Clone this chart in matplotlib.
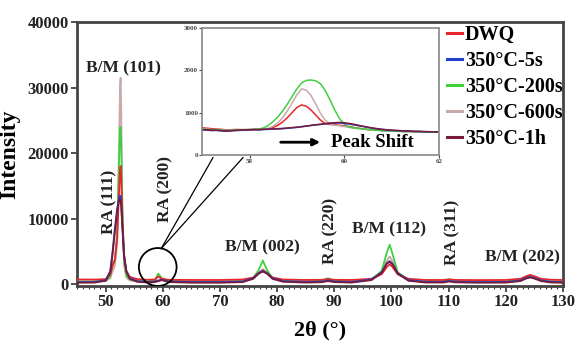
import matplotlib
matplotlib.use("Agg")
import matplotlib.pyplot as plt
from matplotlib.patches import Ellipse, ConnectionPatch
from matplotlib.ticker import MultipleLocator

plt.rcParams['font.family'] = ['Liberation Serif', 'DejaVu Serif']
plt.rcParams['font.weight'] = 'bold'
SERIF = ['Liberation Serif', 'DejaVu Serif']

# ---------------- data ----------------
two_theta = [45, 48, 50, 50.8, 51.2, 51.6, 52.0, 52.3, 52.5, 52.6, 52.7, 52.9, 53.2, 53.6, 54.2,
             55.5, 57.5, 58.6, 59.2, 59.8, 61, 65, 70, 74, 75.8, 76.8, 77.5, 78.2, 79.2, 81,
             85, 87.8, 88.9, 90, 93, 96.5, 98.3, 99.2, 99.7, 100.2, 101.1, 103, 106, 109, 110.1,
             111.2, 115, 120, 122.6, 123.6, 124.3, 125.0, 126.2, 128, 130]

dwq = [700, 680, 750, 1500, 2800, 3800, 7000, 13500, 17500, 18000, 16500, 10000, 4500, 2000, 1100,
       750, 650, 700, 1150, 800, 650, 620, 620, 700, 1000, 1700, 2100, 1700, 1000, 700,
       620, 650, 750, 650, 620, 800, 1500, 2600, 3000, 2600, 1500, 800, 620, 620, 700,
       630, 600, 620, 800, 1200, 1400, 1200, 800, 650, 620]

t5s = [300, 320, 600, 2000, 5000, 8500, 11500, 13000, 13500, 13400, 12500, 9000, 4500, 2000, 900,
       450, 320, 400, 550, 650, 400, 300, 300, 400, 900, 1700, 2000, 1700, 900, 450,
       320, 380, 550, 400, 320, 700, 1800, 3200, 3500, 3100, 1700, 600, 330, 330, 480,
       360, 300, 320, 550, 950, 1100, 950, 550, 330, 300]

t200s = [400, 400, 500, 1200, 3000, 3500, 8000, 18000, 23500, 24000, 22000, 12000, 3500, 1300, 700,
         450, 400, 600, 1600, 900, 450, 380, 380, 450, 900, 2200, 3600, 2200, 900, 500,
         400, 500, 900, 500, 400, 700, 2000, 4800, 6000, 4600, 1800, 600, 400, 450, 750,
         450, 380, 380, 600, 1000, 1200, 1000, 600, 400, 380]

t600s = [350, 350, 450, 900, 2000, 2800, 6000, 20000, 30000, 31500, 27000, 12000, 3000, 1000, 550,
         400, 350, 500, 1300, 700, 400, 350, 350, 420, 800, 1700, 2300, 1700, 800, 450,
         350, 420, 650, 420, 350, 650, 1700, 3600, 4200, 3500, 1500, 550, 370, 380, 550,
         400, 350, 360, 550, 900, 1100, 900, 550, 380, 350]

t1h = [200, 220, 500, 1800, 4600, 8000, 11000, 12600, 13000, 12900, 12000, 8800, 4300, 1900, 800,
       350, 220, 300, 450, 600, 300, 200, 200, 300, 800, 1600, 1900, 1600, 800, 350,
       220, 280, 450, 300, 220, 600, 1700, 3100, 3400, 3000, 1600, 500, 230, 230, 380,
       260, 200, 220, 450, 850, 1000, 850, 450, 230, 200]

# inset (zoom on RA(200))
inset_theta = [57.0, 57.1, 57.2, 57.3, 57.4, 57.5, 57.6, 57.7, 57.8, 57.9,
               58.0, 58.1, 58.2, 58.3, 58.4, 58.5, 58.6, 58.7, 58.8, 58.9,
               59.0, 59.1, 59.2, 59.3, 59.4, 59.5, 59.6, 59.7, 59.8, 59.9,
               60.0, 60.1, 60.2, 60.3, 60.4, 60.5, 60.6, 60.7, 60.8, 60.9,
               61.0, 61.1, 61.2, 61.3, 61.4, 61.5, 61.6, 61.7, 61.8, 61.9, 62.0]

inset_dwq = [640, 630, 620, 610, 605, 590, 595, 600, 600, 595,
             600, 605, 600, 610, 620, 650, 700, 780, 880, 1000,
             1120, 1180, 1150, 1060, 940, 820, 740, 720, 710, 700,
             690, 670, 650, 630, 615, 600, 590, 585, 575, 570,
             565, 560, 558, 555, 552, 550, 548, 546, 545, 545, 545]

inset_5s = [590, 585, 575, 580, 570, 560, 570, 575, 580, 585,
            590, 595, 590, 600, 605, 610, 615, 620, 630, 640,
            650, 665, 680, 695, 710, 720, 735, 745, 750, 755,
            745, 730, 710, 690, 670, 650, 630, 615, 600, 590,
            580, 575, 570, 565, 560, 555, 555, 550, 548, 545, 545]

inset_200s = [610, 600, 590, 600, 585, 570, 580, 590, 585, 600,
              595, 605, 610, 640, 700, 790, 900, 1040, 1200, 1380,
              1560, 1700, 1760, 1770, 1750, 1680, 1520, 1300, 1060, 860,
              730, 660, 640, 630, 610, 600, 590, 580, 575, 570,
              565, 560, 555, 550, 555, 545, 550, 545, 540, 545, 540]

inset_600s = [620, 610, 600, 595, 590, 580, 585, 590, 595, 590,
              600, 600, 605, 610, 630, 680, 760, 880, 1040, 1230,
              1420, 1560, 1530, 1400, 1200, 980, 820, 730, 700, 690,
              670, 650, 630, 620, 610, 600, 590, 585, 575, 570,
              565, 560, 555, 552, 550, 548, 546, 545, 545, 543, 543]

inset_1h = [600, 595, 585, 580, 575, 565, 570, 580, 585, 590,
            595, 600, 600, 605, 610, 615, 620, 625, 635, 645,
            655, 668, 682, 698, 712, 725, 740, 752, 760, 768,
            760, 745, 725, 700, 678, 655, 635, 620, 605, 595,
            585, 578, 572, 566, 560, 556, 554, 550, 548, 546, 545]

labels = ['DWQ', '350°C-5s', '350°C-200s', '350°C-600s', '350°C-1h']
colors = ['#e8262b', '#2340c8', '#3fcf3f', '#c9a9aa', '#7a1a3a']

peak_labels = ['B/M (101)', 'RA (111)', 'RA (200)', 'B/M (002)', 'RA (220)',
               'B/M (112)', 'RA (311)', 'B/M (202)']
peak_x = [53.1, 50.6, 60.5, 77.5, 89.4, 99.5, 110.6, 123.0]
peak_y = [33000, 12500, 14500, 5600, 8100, 8300, 7900, 4000]
peak_rot = [0, 90, 90, 0, 90, 0, 90, 0]

# ---------------- figure ----------------
fig = plt.figure(figsize=(5.76, 3.45), dpi=100)
ax = fig.add_axes([0.134, 0.171, 0.843, 0.765])

series = [dwq, t5s, t200s, t600s, t1h]
order = [3, 2, 0, 1, 4]
for i in order:
    ax.plot(two_theta, series[i], color=colors[i], lw=1.3, zorder=2 + order.index(i))

ax.set_xlim(45, 130)
ax.set_ylim(-300, 40000)
ax.xaxis.set_major_locator(MultipleLocator(10))
ax.xaxis.set_minor_locator(MultipleLocator(1))
ax.yaxis.set_major_locator(MultipleLocator(10000))
ax.tick_params(axis='both', which='major', direction='out', length=4, width=1.2,
               labelsize=12, pad=2, colors='#333333')
ax.tick_params(axis='x', which='minor', direction='out', length=2, width=0.8, colors='#333333')
for lab in ax.get_xticklabels() + ax.get_yticklabels():
    lab.set_fontweight('bold')
    lab.set_color('#222222')
for sp in ax.spines.values():
    sp.set_linewidth(2)
    sp.set_color('#444444')

ax.set_xlabel('2θ (°)', fontsize=16, fontweight='bold', labelpad=7)
ax.set_ylabel('Intensity', fontsize=17, fontweight='bold', labelpad=5)

for t, x, y, r in zip(peak_labels, peak_x, peak_y, peak_rot):
    ax.text(x, y, t, rotation=r, ha='center', va='center', fontsize=12.5,
            fontweight='bold', color='#222222', zorder=10, family=SERIF)

circ = Ellipse((59.1, 2600), width=6.6, height=5800, fill=False, ec='black', lw=1.3, zorder=10)
ax.add_patch(circ)

leg_handles = [plt.Line2D([], [], color=c, lw=2.2) for c in colors]
ax.legend(leg_handles, labels, loc='upper right', bbox_to_anchor=(1.0, 0.99),
          frameon=False, handlelength=0.75, handletextpad=0.15,
          labelspacing=0.3, borderaxespad=0.0, borderpad=0.0,
          prop={'family': 'Liberation Serif', 'weight': 'bold', 'size': 14.5})

# ---------------- inset ----------------
axin = fig.add_axes([0.351, 0.551, 0.411, 0.368])
inset_series = [inset_dwq, inset_5s, inset_200s, inset_600s, inset_1h]
for i in [0, 3, 2, 1, 4]:
    axin.plot(inset_theta, inset_series[i], color=colors[i], lw=1.1)
axin.set_xlim(57, 62)
axin.set_ylim(0, 3000)
axin.xaxis.set_major_locator(MultipleLocator(2))
axin.yaxis.set_major_locator(MultipleLocator(1000))
axin.tick_params(axis='both', direction='out', length=2, width=0.8, labelsize=5, pad=1,
                 colors='#444444')
for lab in axin.get_xticklabels() + axin.get_yticklabels():
    lab.set_fontweight('bold')
for sp in axin.spines.values():
    sp.set_linewidth(1.2)
    sp.set_color('#888888')
axin.annotate('', xy=(59.55, 300), xytext=(58.6, 300),
              arrowprops=dict(arrowstyle='-|>', color='black', lw=2, mutation_scale=10))
axin.text(59.72, 300, 'Peak Shift', ha='left', va='center', fontsize=13.5,
          fontweight='bold', family=SERIF)

for xf in (0.046, 0.173):
    con = ConnectionPatch(xyA=(59.7, 5400), coordsA=ax.transData,
                          xyB=(xf, -0.02), coordsB=axin.transAxes,
                          color='black', lw=0.9)
    fig.add_artist(con)

fig.savefig('out.png', dpi=100)
